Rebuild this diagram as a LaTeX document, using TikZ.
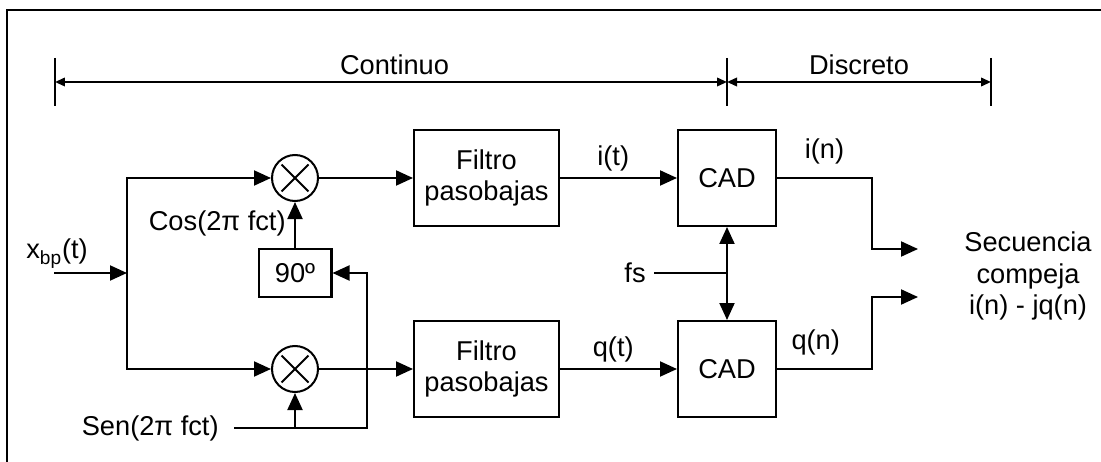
\documentclass[tikz,border=0pt]{standalone}
\usepackage{fontspec}
\setmainfont{Liberation Sans}
\usetikzlibrary{arrows.meta}

\tikzset{
  sig/.style={line width=1.15pt, -{Triangle[length=0.34cm, width=0.3cm]}},
  dim/.style={line width=1.15pt, {Triangle[length=0.2cm, width=0.17cm]}-{Triangle[length=0.2cm, width=0.17cm]}},
  lpfbox/.style={draw, line width=1.15pt, minimum width=2.9cm, minimum height=1.92cm, align=center, inner sep=0pt},
  cadbox/.style={draw, line width=1.15pt, minimum width=1.96cm, minimum height=1.92cm, inner sep=0pt},
  mixer/.style={draw, circle, line width=1.15pt, minimum size=0.92cm, inner sep=0pt,
    path picture={\draw[line width=1.15pt] (path picture bounding box.center) ++(-0.27cm,-0.27cm) -- ++(0.54cm,0.54cm)
      (path picture bounding box.center) ++(-0.27cm,0.27cm) -- ++(0.54cm,-0.54cm);}},
}

\begin{document}
\begin{tikzpicture}[x=0.02cm, y=-0.02cm, font=\fontsize{15.5}{17.8}\selectfont]
    \useasboundingbox (0,0) rectangle (1101,462);
    % frame (only top and left edges are in view)
    \draw[line width=1.7pt] (7,462) -- (7,10) -- (1101,10);

    % time axis: continuous / discrete parts
    \coordinate (ta) at (55,82);
    \coordinate (tb) at (727,82);
    \coordinate (tc) at (991,82);
    \foreach \x in {55,727,991}
      \draw[line width=1.15pt] (\x,58) -- (\x,106);
    \draw[dim] (ta) -- node[above, xshift=2pt] {Continuo} (tb);
    \draw[dim] (tb) -- node[above] {Discreto} (tc);

    % the two branches: mixer, low-pass filter, ADC
    \foreach \b/\y/\s in {u/178/i, l/369/q} {
      \node[mixer] (mix\b) at (295,\y) {};
      \node[lpfbox] (lpf\b) at (486.5,\y) {Filtro\\pasobajas};
      \node[cadbox] (cad\b) at (727,\y) {CAD};
      \draw[sig] (mix\b) -- (lpf\b);
      \draw[sig] (lpf\b) -- node[above, xshift=-3pt] {\s(t)} (cad\b);
    }

    % input and split
    \coordinate (xin) at (54,273);
    \coordinate (split) at (127,273);
    \node[anchor=base west, inner sep=0pt] (xlab) at (26,259) {x\textsubscript{bp}(t)};
    \draw[sig] (xin) -- (split);
    \draw[sig] (split) |- (mixu);
    \draw[sig] (split) |- (mixl);

    % carrier and 90 degree shift
    \node[draw, line width=1.15pt, minimum width=1.46cm, minimum height=0.96cm, inner sep=0pt] (ninety) at (295,273) {90º};
    \node[anchor=east, inner sep=0pt] (coslab) at (286,223) {Cos(2π fct)};
    \node[anchor=east, inner sep=0pt] (senlab) at (219,428) {Sen(2π fct)};
    \coordinate (sen) at (234,428);
    \coordinate (loop) at (367,273);
    \draw[sig] (ninety) -- (mixu);
    \draw[sig] (sen -| mixl) -- (mixl);
    \draw[sig] (sen) -| (loop) -- (ninety);

    % sampling clock
    \node[anchor=east, inner sep=0pt] (fs) at (646,273) {fs};
    \coordinate (clk) at (727,273);
    \draw[line width=1.15pt] (654,273) -- (clk);
    \draw[sig] (clk) -- (cadu);
    \draw[sig] (clk) -- (cadl);

    % outputs
    \coordinate (outu) at (918,249);
    \coordinate (outl) at (918,297);
    \draw[sig] (cadu.east) -- node[above, yshift=4pt] {i(n)} ++(95,0) |- (outu);
    \draw[sig] (cadl.east) -- node[above, yshift=4pt, xshift=-5pt] {q(n)} ++(95,0) |- (outl);
    \node[align=center] (seq) at (1028,276) {Secuencia\\compeja\\i(n) - jq(n)};
  \end{tikzpicture}
\end{document}
